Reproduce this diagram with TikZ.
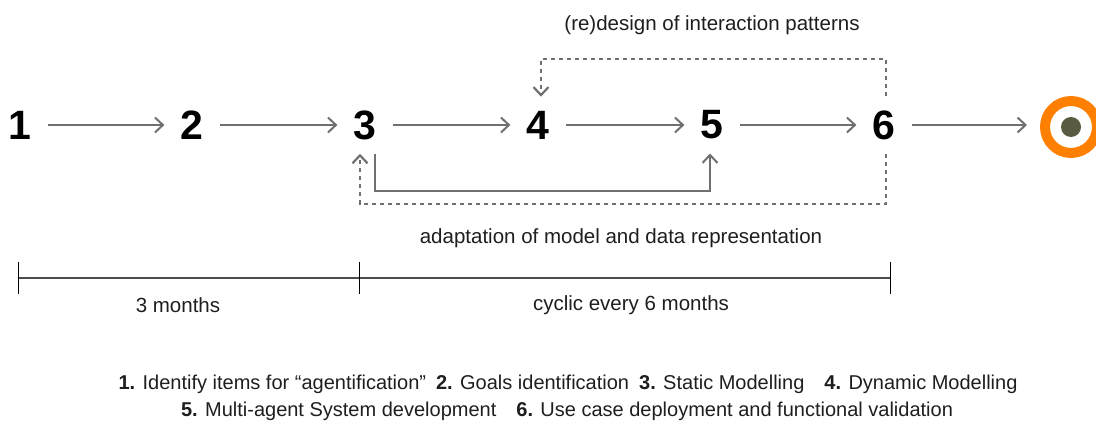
\documentclass[tikz,border=0pt]{standalone}
\usepackage{fontspec}
\setmainfont{Liberation Sans}
\usepackage{xcolor}
\usetikzlibrary{arrows.meta}
\definecolor{flowgray}{HTML}{707070}
\definecolor{ringorange}{HTML}{FF8000}
\definecolor{dotolive}{HTML}{5A5A40}
\definecolor{inkgray}{HTML}{1E1E1E}
\newcommand{\lbl}{\fontsize{20.5}{24}\selectfont}
\newcommand{\lgd}{\fontsize{20}{24}\selectfont}

\begin{document}
\begin{tikzpicture}[x=1pt,y=-1pt,
        stepnum/.style={font=\fontsize{41}{41}\selectfont\bfseries,inner xsep=16pt,inner ysep=14pt},
        flow/.style={draw=flowgray,line width=2pt,-{Straight Barb[length=8pt,width=15pt]}},
        loopline/.style={draw=flowgray,line width=2.2pt,dash pattern=on 4pt off 4pt,-{Straight Barb[length=8pt,width=15pt]}},
        endring/.style={circle,draw=ringorange,line width=10pt,minimum size=52pt,inner sep=0pt},
        txt/.style={font=\lbl,text=inkgray,inner sep=0pt},
        legend/.style={font=\lgd,text=inkgray,inner sep=0pt}
    ]
            \useasboundingbox (0,0) rectangle (1096,422);

            \node[stepnum] (s1) at (20,125)  {1};
            \node[stepnum] (s2) at (192,125) {2};
            \node[stepnum] (s3) at (365,125) {3};
            \node[stepnum] (s4) at (538,125) {4};
            \node[stepnum] (s5) at (712,125) {5};
            \node[stepnum] (s6) at (884,125) {6};
            \node[endring] (end) at (1071,127) {};
            \fill[dotolive] (end) circle (10pt);

            \draw[flow] (s1) -- (s2);
            \draw[flow] (s2) -- (s3);
            \draw[flow] (s3) -- (s4);
            \draw[flow] (s4) -- (s5);
            \draw[flow] (s5) -- (s6);
            \draw[flow,shorten >=13pt] (s6.east) -- (end.west |- s6.east);

            % Loops
            \coordinate (upper) at (0,59);
            \coordinate (lower) at (0,204);
            \coordinate (solidlow) at (0,191);
            \draw[loopline] ([xshift=2pt]s6.north) -- ([xshift=2pt]s6.north |- upper) -| ([xshift=3pt]s4.north);
            \draw[loopline] ([xshift=2pt]s6.south) -- ([xshift=2pt]s6.south |- lower) -| ([xshift=-5pt]s3.south);
            \draw[flow] ([xshift=10pt]s3.south) -- ([xshift=10pt]s3.south |- solidlow) -| ([xshift=-2pt]s5.south);

            \node[txt] (redesign) at (712,25) {(re)design of interaction patterns};
            \node[txt] (adapt) at (621,238) {adaptation of model and data representation};

            % Timeline
            \coordinate (t0) at (18,278);
            \coordinate (t1) at (359,278);
            \coordinate (t2) at (890,278);
            \draw[line width=1.5pt,draw=black!70] (t0) -- (t2);
            \foreach \t in {t0,t1,t2}
                \draw[line width=1pt] ([yshift=16pt]\t) -- ([yshift=-16pt]\t);
            \node[txt] (first) at (178,305) {3 months};
            \node[txt] (cyclic) at (631,305) {cyclic every 6 months};

            \node[legend] (leg1) at (568,384) {\textbf{1.} Identify items for “agentification”\enspace \textbf{2.} Goals identification\enspace \textbf{3.} Static Modelling\quad \textbf{4.} Dynamic Modelling};
            \node[legend] (leg2) at (567,411) {\textbf{5.} Multi-agent System development\quad \textbf{6.} Use case deployment and functional validation};
        \end{tikzpicture}
\end{document}
